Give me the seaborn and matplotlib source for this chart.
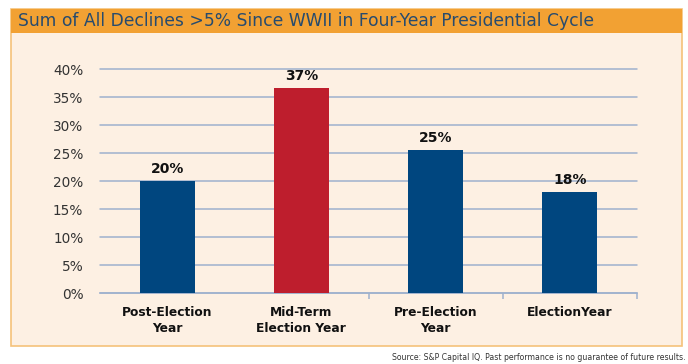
import matplotlib
matplotlib.use("Agg")
import matplotlib.pyplot as plt
from matplotlib.patches import Rectangle
import seaborn as sns
import pandas as pd

categories = ["Post-Election\nYear", "Mid-Term\nElection Year", "Pre-Election\nYear", "ElectionYear"]
values = [20.0, 36.7, 25.6, 18.1]
value_labels = ["20%", "37%", "25%", "18%"]
bar_colors = ["#00467F", "#BE1E2D", "#00467F", "#00467F"]
yticks = [0, 5, 10, 15, 20, 25, 30, 35, 40]
ytick_labels = ["0%", "5%", "10%", "15%", "20%", "25%", "30%", "35%", "40%"]
title = "Sum of All Declines >5% Since WWII in Four-Year Presidential Cycle"
source = "Source: S&P Capital IQ. Past performance is no guarantee of future results."

ORANGE = "#F2A133"
CREAM = "#FDF0E3"
GRID = "#9FB1CD"

sns.set_theme(style="white")
plt.rcParams['font.family'] = ['DejaVu Sans']

W, H = 688, 364
fig = plt.figure(figsize=(W / 100, H / 100), dpi=100)
fig.patch.set_facecolor("white")

def fx(px):
    return px / W

def fy(py):
    return 1 - py / H

# panel background + border
fig.patches.append(Rectangle((fx(11), fy(346)), fx(682) - fx(11), fy(9) - fy(346),
                             transform=fig.transFigure, facecolor=CREAM,
                             edgecolor="#F5C27A", linewidth=1.2, zorder=0))
# title band
fig.patches.append(Rectangle((fx(11), fy(33)), fx(682) - fx(11), fy(9) - fy(33),
                             transform=fig.transFigure, facecolor=ORANGE,
                             edgecolor="none", zorder=1))
fig.text(fx(18), fy(21.5), title, ha="left", va="center", fontsize=12.3,
         color="#274B6E", zorder=2)
fig.text(fx(686), fy(357), source, ha="right", va="center", fontsize=5.6,
         color="#333333")

ax = fig.add_axes([fx(100), fy(293.3), fx(637) - fx(100), fy(69.3) - fy(293.3)])
ax.set_facecolor("none")
ax.set_zorder(5)

df = pd.DataFrame({"cat": categories, "val": values})
sns.barplot(data=df, x="cat", y="val", hue="cat", palette=bar_colors,
            width=0.41, saturation=1, legend=False, ax=ax, zorder=3,
            linewidth=0, edgecolor="none")

ax.set_xlim(-0.5, 3.5)
ax.set_ylim(0, 40)
ax.set_yticks(yticks)
ax.set_yticklabels(ytick_labels)
ax.yaxis.grid(True, color=GRID, linewidth=1.1)
for gl in ax.get_ygridlines():
    gl.set_clip_on(False)
ax.set_axisbelow(True)
for s in ["top", "right", "left"]:
    ax.spines[s].set_visible(False)
ax.spines["bottom"].set_color(GRID)
ax.spines["bottom"].set_linewidth(1.1)
ax.tick_params(axis="y", length=0, pad=12, labelsize=9.8, labelcolor="#333333")
ax.tick_params(axis="x", which="major", length=0, pad=9)
ax.set_xticks([1.5, 2.5, 3.5], minor=True)
ax.tick_params(axis="x", which="minor", bottom=True, length=4, width=1.1,
               color=GRID, direction="out")
for lab in ax.get_xticklabels():
    lab.set_fontweight("bold")
    lab.set_fontsize(8.8)
    lab.set_color("#111111")
    lab.set_linespacing(1.35)
ax.set_xlabel("")
ax.set_ylabel("")

for i, (v, t) in enumerate(zip(values, value_labels)):
    ax.annotate(t, (i, v), xytext=(0, 12), textcoords="offset pixels",
                ha="center", va="center", fontsize=10, fontweight="bold", color="#111111")

fig.savefig("out.png", dpi=100, facecolor=fig.get_facecolor())
